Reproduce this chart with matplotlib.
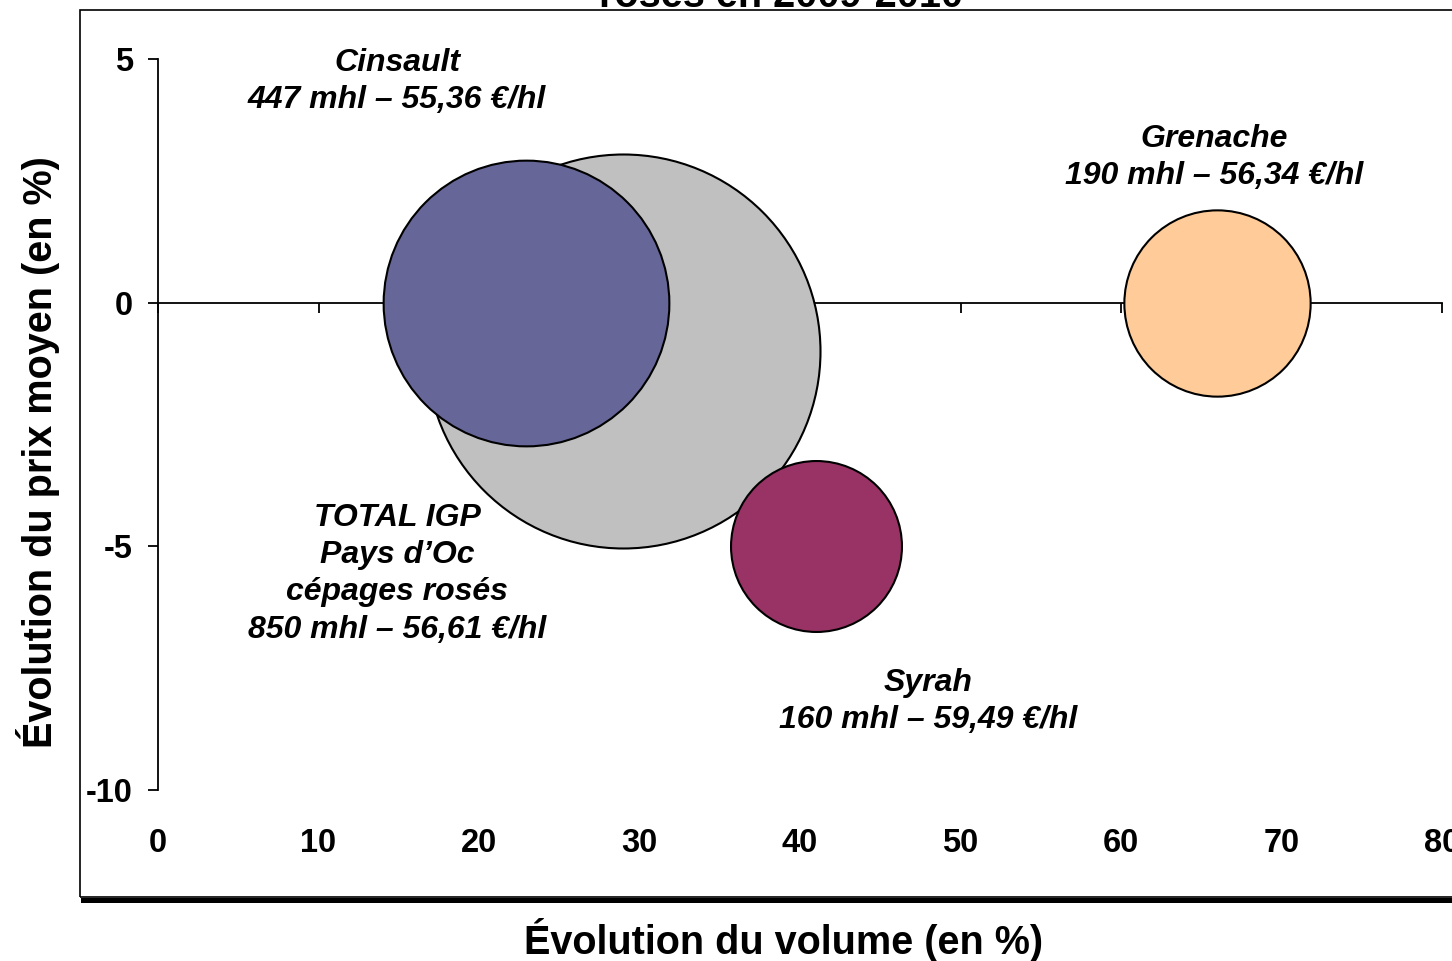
import matplotlib
matplotlib.use("Agg")
import matplotlib.pyplot as plt
from matplotlib.patches import Rectangle
from matplotlib.lines import Line2D

plt.rcParams['font.family'] = ['Liberation Sans', 'DejaVu Sans']
plt.rcParams['axes.unicode_minus'] = False

# ---- data ----
names = ["TOTAL IGP Pays d'Oc cépages rosés", "Cinsault", "Grenache", "Syrah"]
vol_change = [29, 22.9, 66, 41]          # Évolution du volume (en %)
price_change = [-1, 0, 0, -5]            # Évolution du prix moyen (en %)
volumes_mhl = [850, 447, 190, 160]       # bubble size
prices = ["56,61", "55,36", "56,34", "59,49"]
label_titles = ["TOTAL IGP\nPays d\u2019Oc\ncépages rosés", "Cinsault", "Grenache", "Syrah"]
colors = ["#C0C0C0", "#666699", "#FFCC99", "#993366"]
x_ticks = [0, 10, 20, 30, 40, 50, 60, 70, 80]
y_ticks = [-10, -5, 0, 5]

# label anchor positions (layout, in data units)
label_pos = [(14.9, -5.56), (14.9, 4.54), (65.8, 2.98), (48.0, -8.19)]

W, H = 1452, 961
fig = plt.figure(figsize=(W / 100, H / 100), dpi=100)
ax = fig.add_axes([158 / W, 1 - 790 / H, (1442 - 158) / W, (790 - 59) / H])
ax.set_xlim(0, 80)
ax.set_ylim(-10, 5)

# bubble sizes: area proportional to volume, largest radius ~197 px
r_max_pt = 197 * 72 / 100
scale = (2 * r_max_pt) ** 2 / max(volumes_mhl)
sizes = [v * scale for v in volumes_mhl]

for x, y, s, c in zip(vol_change, price_change, sizes, colors):
    ax.scatter([x], [y], s=s, color=c, edgecolors="black", linewidths=1.5,
               zorder=3, clip_on=False)

for (lx, ly), t, v, p in zip(label_pos, label_titles, volumes_mhl, prices):
    ax.text(lx, ly, f"{t}\n{v} mhl \u2013 {p} \u20ac/hl", ha="center", va="center",
            fontsize=23, fontweight="bold", fontstyle="italic", linespacing=1.32,
            zorder=5)

# axes styling
for sp in ["top", "right"]:
    ax.spines[sp].set_visible(False)
ax.spines["bottom"].set_position(("data", 0))
ax.spines["bottom"].set_linewidth(1.3)
ax.spines["left"].set_linewidth(1.3)
ax.spines["bottom"].set_zorder(1)
ax.set_xticks(x_ticks)
ax.set_yticks(y_ticks)
ax.tick_params(axis="x", direction="out", length=7.2, width=1.3, labelbottom=False)
ax.tick_params(axis="y", direction="out", length=7.2, width=1.3, pad=11, labelsize=23.5)
for lab in ax.get_yticklabels():
    lab.set_fontweight("bold")

sec = ax.secondary_xaxis("bottom")
sec.spines["bottom"].set_visible(False)
sec.set_xticks(x_ticks)
sec.tick_params(length=0, pad=27, labelsize=23.5)
for lab in sec.get_xticklabels():
    lab.set_fontweight("bold")

# axis titles
fig.text(784 / W, 1 - 940 / H, "Évolution du volume (en %)", ha="center", va="center",
         fontsize=28.5, fontweight="bold")
fig.text(38 / W, 1 - 452 / H, "Évolution du prix moyen (en %)", ha="center", va="center",
         rotation=90, fontsize=28.5, fontweight="bold")

# partially visible title line
fig.text(781 / W, 1 - 7 / H, "rosés en 2009-2010", ha="center", va="baseline",
         fontsize=28.5, fontweight="bold")

# chart-area frame with shadow
fig.add_artist(Rectangle((80 / W, 1 - 897 / H), (W + 20 - 80) / W, (897 - 10) / H,
                         transform=fig.transFigure, fill=False, edgecolor="black",
                         linewidth=1.2))
fig.add_artist(Line2D([83 / W, 1.02], [1 - 899.5 / H, 1 - 899.5 / H],
                      transform=fig.transFigure, color="black", linewidth=3.6))

fig.savefig("out.png", dpi=100)
